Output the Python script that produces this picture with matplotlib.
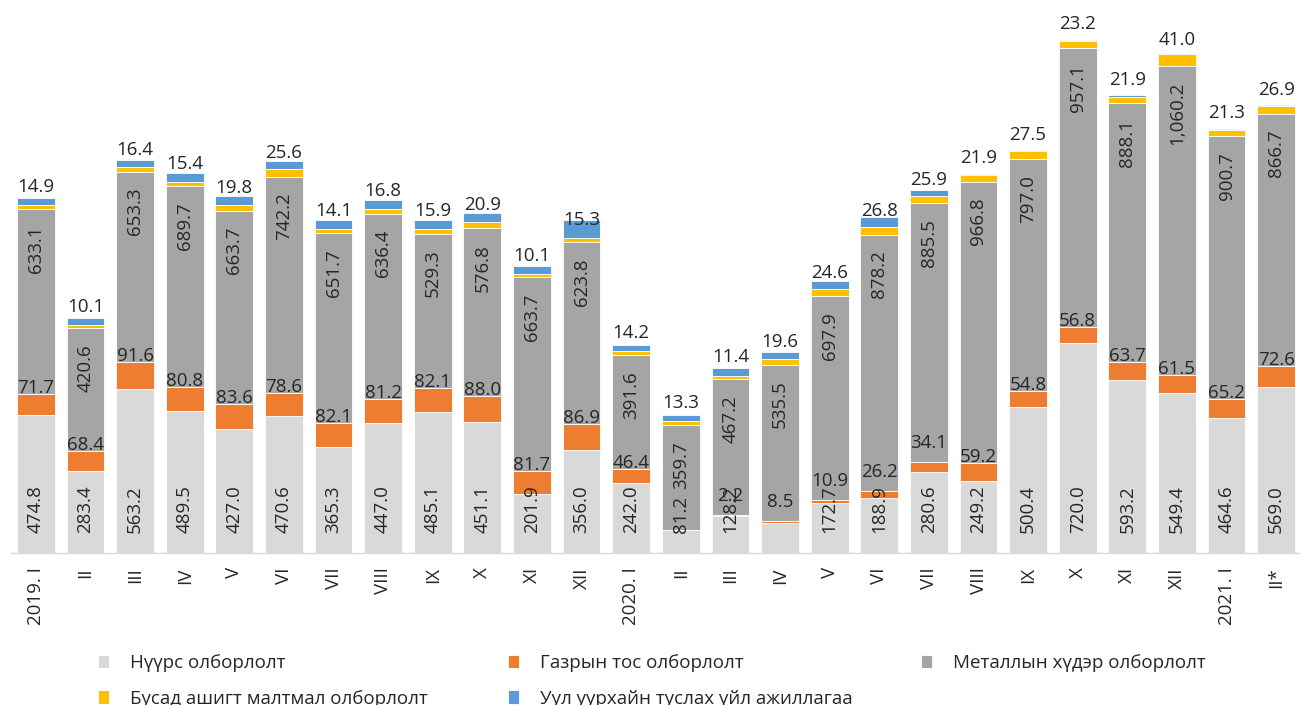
import numpy as np
import matplotlib
matplotlib.use("Agg")
import matplotlib.pyplot as plt

plt.rcParams['font.family'] = ['Open Sans', 'DejaVu Sans']

# --- data ---
categories = ["2019. I", "II", "III", "IV", "V", "VI", "VII", "VIII", "IX", "X", "XI", "XII",
              "2020. I", "II", "III", "IV", "V", "VI", "VII", "VIII", "IX", "X", "XI", "XII",
              "2021. I", "II*"]

coal = [474.8, 283.4, 563.2, 489.5, 427.0, 470.6, 365.3, 447.0, 485.1, 451.1, 201.9, 356.0,
        242.0, 81.2, 128.2, 103.0, 172.7, 188.9, 280.6, 249.2, 500.4, 720.0, 593.2, 549.4,
        464.6, 569.0]
oil = [71.7, 68.4, 91.6, 80.8, 83.6, 78.6, 82.1, 81.2, 82.1, 88.0, 81.7, 86.9,
       46.4, 0.0, 2.2, 8.5, 10.9, 26.2, 34.1, 59.2, 54.8, 56.8, 63.7, 61.5,
       65.2, 72.6]
metal = [633.1, 420.6, 653.3, 689.7, 663.7, 742.2, 651.7, 636.4, 529.3, 576.8, 663.7, 623.8,
         391.6, 359.7, 467.2, 535.5, 697.9, 878.2, 885.5, 966.8, 797.0, 957.1, 888.1, 1060.2,
         900.7, 866.7]
other = [14.9, 10.1, 16.4, 15.4, 19.8, 25.6, 14.1, 16.8, 15.9, 20.9, 10.1, 15.3,
         14.2, 13.3, 11.4, 19.6, 24.6, 26.8, 25.9, 21.9, 27.5, 23.2, 21.9, 41.0,
         21.3, 26.9]
support = [26, 23, 25, 28, 30, 30, 29, 29, 31, 29, 28, 60,
           20, 19, 25, 24, 28, 32, 20, 3, 5, 4, 4, 3,
           4, 1]

# coal value of 2020 IV has no label on the original chart
no_coal_label = {15}

series_names = ["Нүүрс олборлолт", "Газрын тос олборлолт", "Металлын хүдэр олборлолт",
                "Бусад ашигт малтмал олборлолт", "Уул уурхайн туслах үйл ажиллагаа"]
colors = ["#d9d9d9", "#ed7d31", "#a5a5a5", "#ffc000", "#5b9bd5"]

txt_color = "#262626"
fs = 13.5
PT = 0.72  # points per pixel at dpi 100

fig = plt.figure(figsize=(13, 7.05), dpi=100)
ax = fig.add_axes([11 / 1300, 1 - 553.3 / 705, 1290 / 1300, 543.3 / 705])

x = np.arange(len(categories))
w = 0.76
stack = [coal, oil, metal, other, support]
bottom = np.zeros(len(x))
handles = []
for vals, c, name in zip(stack, colors, series_names):
    vals = np.array(vals, dtype=float)
    b = ax.bar(x, vals, w, bottom=bottom, color=c, edgecolor="white", linewidth=0.6, label=name)
    handles.append(b)
    bottom = bottom + vals

coal_a = np.array(coal)
oil_a = np.array(oil)
metal_a = np.array(metal)
other_a = np.array(other)

for i in x:
    # coal, inside base
    if i not in no_coal_label:
        ax.annotate(f"{coal_a[i]:,.1f}", (i, 0), xytext=(0, 20 * PT), textcoords="offset points",
                    rotation=90, ha="center", va="bottom", fontsize=fs, color=txt_color)
    # oil, near top of its segment
    if oil_a[i] > 0:
        off = 6 if oil_a[i] >= 40 else 19
        ax.annotate(f"{oil_a[i]:,.1f}", (i, coal_a[i] + oil_a[i]), xytext=(0, off * PT),
                    textcoords="offset points", ha="center", va="center", fontsize=fs, color=txt_color)
    # metal, inside end
    top_m = coal_a[i] + oil_a[i] + metal_a[i]
    ax.annotate(f"{metal_a[i]:,.1f}", (i, top_m), xytext=(0, -16 * PT), textcoords="offset points",
                rotation=90, ha="center", va="top", fontsize=fs, color=txt_color)
    # other minerals, above the bar
    ax.annotate(f"{other_a[i]:,.1f}", (i, top_m + other_a[i] / 2), xytext=(0, 20 * PT),
                textcoords="offset points", ha="center", va="center", fontsize=fs, color=txt_color)

ax.set_xlim(-0.5, len(x) - 0.5)
ax.set_ylim(0, 543.3 / 0.2915)
ax.set_xticks(x)
ax.set_xticklabels(categories, rotation=90, fontsize=fs, color=txt_color)
ax.tick_params(axis="x", length=0, pad=14 * PT)
ax.set_yticks([])
for s in ["top", "right", "left"]:
    ax.spines[s].set_visible(False)
ax.spines["bottom"].set_color("#d9d9d9")
ax.spines["bottom"].set_linewidth(1.0)

# legend laid out row by row: three columns placed like the original
columns = [([0, 3], 98), ([1, 4], 508), ([2], 921)]
for idx, xpix in columns:
    fig.legend(handles=[handles[k] for k in idx], labels=[series_names[k] for k in idx],
               loc="upper left", bbox_to_anchor=(xpix / 1300, 1 - 654 / 705),
               frameon=False, fontsize=fs, handlelength=0.6, handleheight=0.75,
               handletextpad=1.1, labelspacing=0.95, borderpad=0, borderaxespad=0,
               labelcolor=txt_color)

fig.savefig("out.png", dpi=100)
